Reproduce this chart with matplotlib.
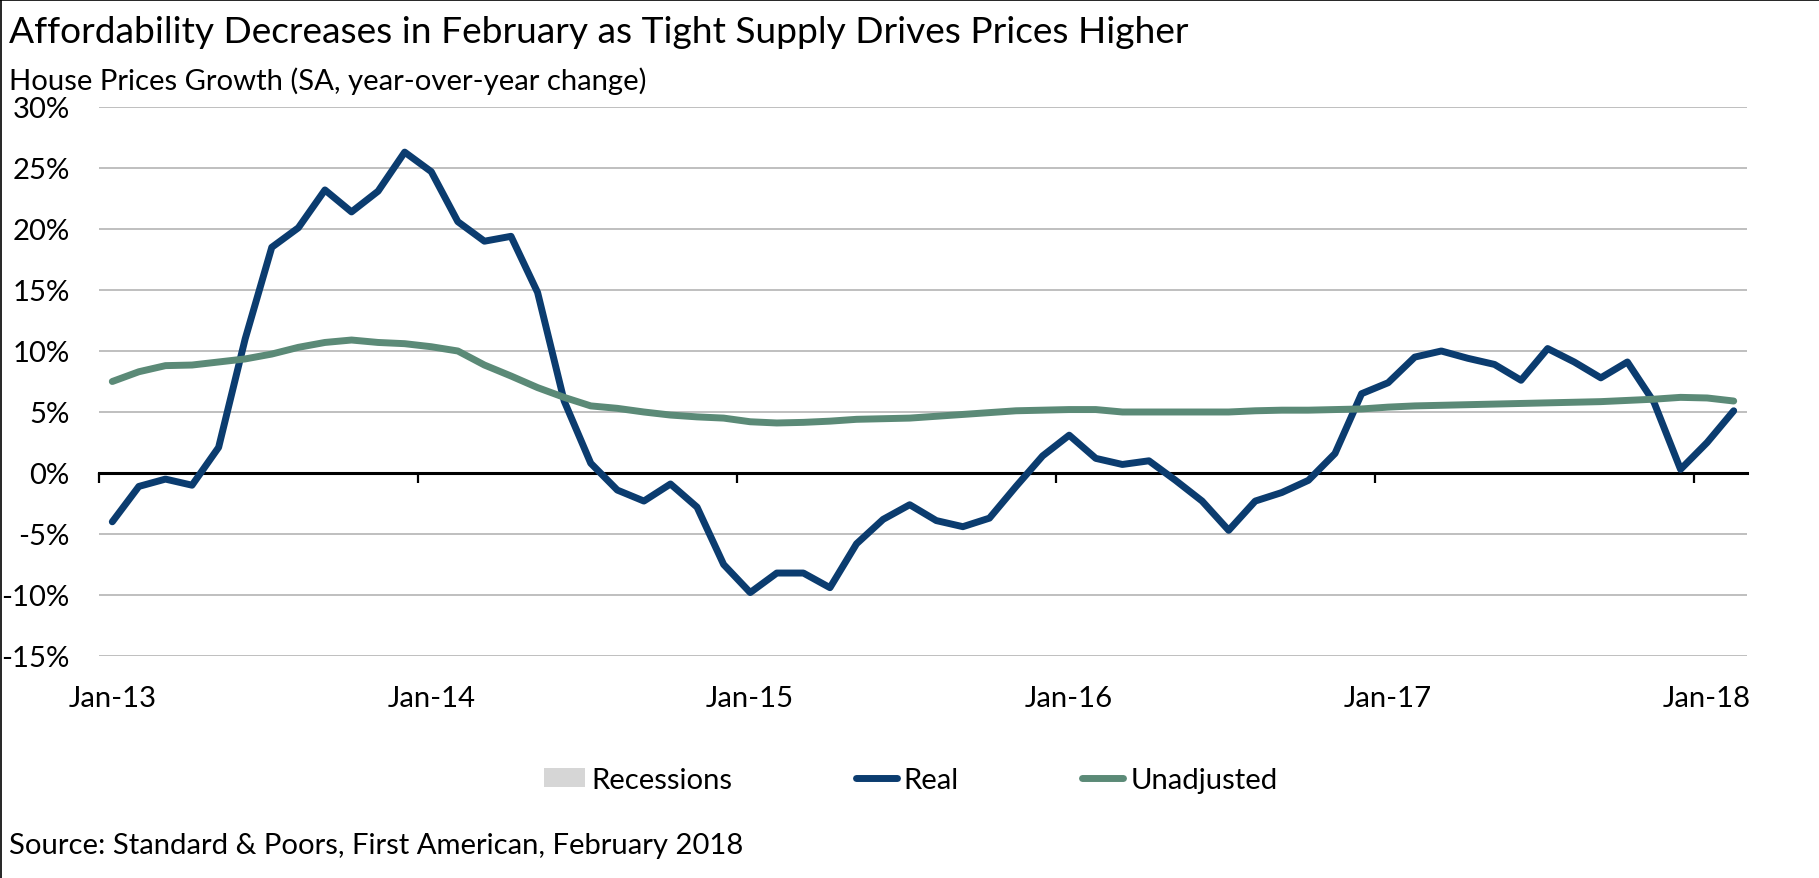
import numpy as np
import pandas as pd
import matplotlib
matplotlib.use("Agg")
import matplotlib.pyplot as plt
from matplotlib.lines import Line2D
from matplotlib.patches import Patch

# ---------------- data ----------------
months = pd.date_range("2013-01-01", periods=62, freq="MS")

real = [-4.0, -1.1, -0.5, -1.0, 2.1, 11.0, 18.5, 20.1, 23.2, 21.4,
        23.1, 26.3, 24.7, 20.6, 19.0, 19.4, 14.8, 5.9, 0.8, -1.4,
        -2.3, -0.9, -2.8, -7.5, -9.8, -8.2, -8.2, -9.4, -5.8, -3.8,
        -2.6, -3.9, -4.4, -3.7, -1.1, 1.4, 3.1, 1.2, 0.7, 1.0,
        -0.6, -2.3, -4.7, -2.3, -1.6, -0.6, 1.6, 6.5, 7.4, 9.5,
        10.0, 9.4, 8.9, 7.6, 10.2, 9.1, 7.8, 9.1, 5.8, 0.3,
        2.5, 5.1]

unadjusted = [7.5, 8.3, 8.8, 8.85, 9.1, 9.35, 9.75, 10.3, 10.7, 10.9,
              10.7, 10.6, 10.35, 10.0, 8.85, 7.95, 7.0, 6.2, 5.5, 5.3,
              5.0, 4.75, 4.6, 4.5, 4.2, 4.1, 4.15, 4.25, 4.4, 4.45,
              4.5, 4.65, 4.8, 4.95, 5.1, 5.15, 5.2, 5.2, 5.0, 5.0,
              5.0, 5.0, 5.0, 5.1, 5.15, 5.15, 5.2, 5.25, 5.4, 5.5,
              5.55, 5.6, 5.65, 5.7, 5.75, 5.8, 5.85, 5.95, 6.05, 6.2,
              6.15, 5.9]

x_labels = ["Jan-13", "Jan-14", "Jan-15", "Jan-16", "Jan-17", "Jan-18"]
y_ticks = [-15, -10, -5, 0, 5, 10, 15, 20, 25, 30]
legend_labels = ["Recessions", "Real", "Unadjusted"]

title_text = "Affordability Decreases in February as Tight Supply Drives Prices Higher"
subtitle_text = "House Prices Growth (SA, year-over-year change)"
source_text = "Source: Standard & Poors, First American, February 2018"

# ---------------- style ----------------
NAVY = "#0B3C6F"
GREEN = "#5B8A77"
GRID = "#BFBFBF"
RECESS = "#D6D6D6"
LW = 5.0

plt.rcParams["font.family"] = ["Lato", "DejaVu Sans"]

W, H = 1819, 879
fig = plt.figure(figsize=(W / 100, H / 100), dpi=100)
renderer = fig.canvas.get_renderer()


def fit(t, target_px):
    w = t.get_window_extent(renderer).width
    t.set_fontsize(t.get_fontsize() * target_px / w)
    return t.get_fontsize()


title = fig.text(9 / W, 1 - 43 / H, title_text, fontsize=24, va="baseline", ha="left")
fit(title, 1180)
subtitle = fig.text(9 / W, 1 - 90 / H, subtitle_text, fontsize=18, va="baseline", ha="left")
fs = fit(subtitle, 636)
fig.text(9 / W, 1 - 854 / H, source_text, fontsize=fs, va="baseline", ha="left")

ax = fig.add_axes([99 / W, 1 - 657 / H, (1747 - 99) / W, (657 - 108) / H])
x = np.arange(len(real))
months_idx = {m: i for i, m in enumerate(months)}
label_pos = [months_idx[m] for m in months if m.month == 1]

ax.plot(x, real, color=NAVY, lw=LW, solid_joinstyle="round",
        solid_capstyle="round", zorder=3)
ax.plot(x, unadjusted, color=GREEN, lw=LW, solid_joinstyle="round",
        solid_capstyle="round", zorder=4)

ax.set_xlim(-0.5, len(real) - 0.5)
ax.set_ylim(min(y_ticks), max(y_ticks))
ax.set_yticks(y_ticks)
ax.set_yticklabels([f"{v}%" for v in y_ticks])
ax.yaxis.grid(True, color=GRID, lw=1.4)
ax.set_axisbelow(True)
for s in ["left", "right", "top"]:
    ax.spines[s].set_visible(False)
ax.spines["bottom"].set_position(("data", 0))
ax.spines["bottom"].set_linewidth(2.2)
ax.spines["bottom"].set_color("black")
ax.set_xticks(np.array(label_pos) - 0.5)
ax.tick_params(axis="x", direction="out", length=7, width=1.6,
               labelbottom=False, color="black")
ax.tick_params(axis="y", length=0, pad=21, labelsize=fs, labelcolor="black")

sec = ax.secondary_xaxis("bottom")
sec.set_xticks(label_pos, x_labels)
sec.tick_params(length=0, pad=21, labelsize=fs)
sec.spines["bottom"].set_visible(False)

handles = [
    Patch(facecolor=RECESS, edgecolor="none"),
    Line2D([], [], color=NAVY, lw=LW, solid_capstyle="round"),
    Line2D([], [], color=GREEN, lw=LW, solid_capstyle="round"),
]
fig.legend(handles, legend_labels, loc="center",
           bbox_to_anchor=(910.5 / W, 1 - 781 / H), ncol=3, frameon=False,
           fontsize=fs, handlelength=1.4, handleheight=0.6,
           handletextpad=0.25, columnspacing=4.2, borderaxespad=0,
           borderpad=0)

# frame lines at left and top edges
fig.add_artist(Line2D([0.6 / W, 0.6 / W], [0, 1], transform=fig.transFigure,
                      color="black", lw=1.2))
fig.add_artist(Line2D([0, 1], [1 - 0.6 / H, 1 - 0.6 / H], transform=fig.transFigure,
                      color="black", lw=1.2))

fig.savefig("out.png", dpi=100, facecolor="white")
